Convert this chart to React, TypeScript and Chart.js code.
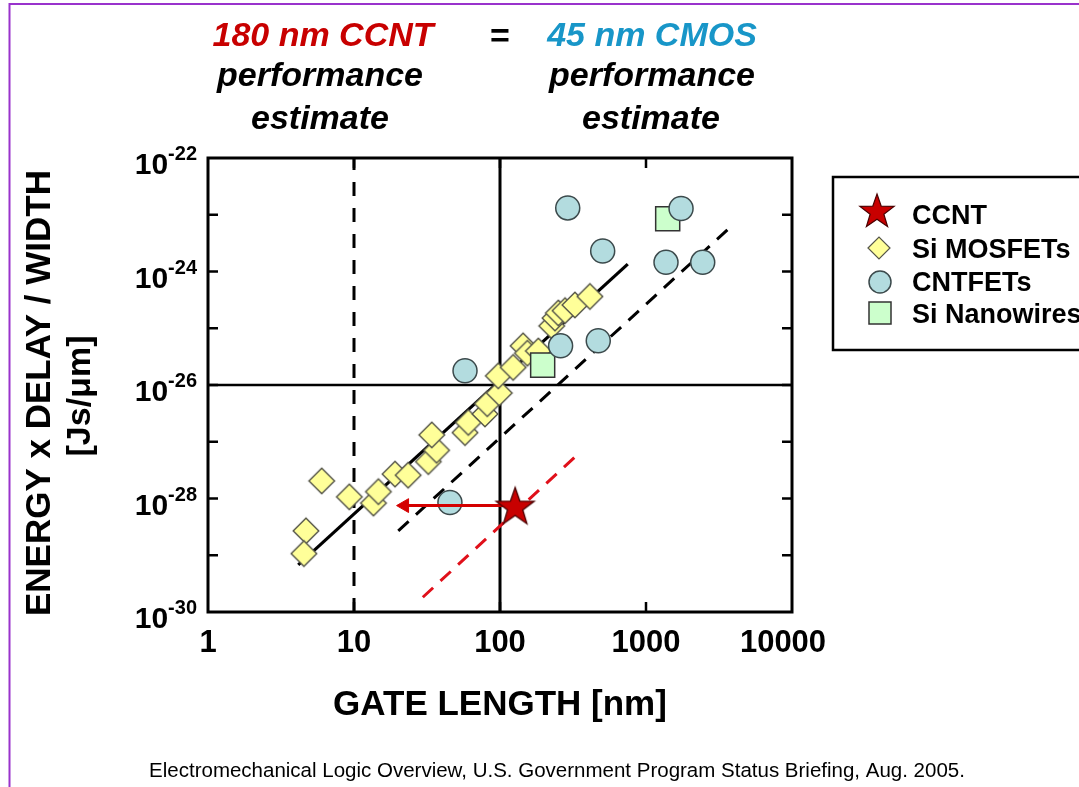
import React, { useEffect, useRef } from 'react';
import { Chart, registerables } from 'chart.js';

Chart.register(...registerables);

// ---------------- data (gate length in nm, energy x delay / width in Js/um) ----------------
const mosfetGateNm = [6.01, 4.69, 4.54, 9.29, 13.6, 14.7, 19.1, 23.5, 32.3, 36.8, 34.1, 57.6, 60.7, 78.9, 81.8, 98.9, 97.3, 123, 144, 154, 183, 226, 238, 251, 279, 326, 413];
const mosfetEDW = [2.04e-28, 2.69e-29, 1.07e-29, 1.07e-28, 8.3e-29, 1.32e-28, 2.69e-28, 2.57e-28, 4.47e-28, 7.08e-28, 1.32e-27, 1.45e-27, 2.19e-27, 3.09e-27, 4.68e-27, 7.24e-27, 1.45e-26, 2.04e-26, 4.9e-26, 3.63e-26, 3.98e-26, 1.1e-25, 1.51e-25, 1.86e-25, 2.04e-25, 2.57e-25, 3.63e-25];

const cntfetGateNm = [291, 505, 1738, 1371, 2446, 57.6, 260, 471, 45.4];
const cntfetEDW = [1.32e-23, 2.29e-24, 1.29e-23, 1.45e-24, 1.45e-24, 1.78e-26, 4.9e-26, 6.03e-26, 8.5e-29];

const nanowireGateNm = [1408, 196];
const nanowireEDW = [8.5e-24, 2.24e-26];

const ccntGateNm = [127];
const ccntEDW = [7.24e-29];

const arrowGateNm = [127, 22.2];
const arrowEDW = [7.5e-29, 7.5e-29];

const cmosFitGateNm = [4.15, 750];
const cmosFitEDW = [6.76e-30, 1.35e-24];

const shiftedFitGateNm = [20.1, 3700];
const shiftedFitEDW = [2.69e-29, 5.75e-24];

const ccntFitGateNm = [29.6, 332];
const ccntFitEDW = [1.82e-30, 5.62e-28];

const refLine10Nm = [10, 10];
const refLine100Nm = [100, 100];
const refLineFullEDW = [1e-30, 1e-22];
const refHorizNm = [1, 10000];
const refHorizEDW = [1e-26, 1e-26];

const xMin = 1;
const xMax = 10000;
const yMin = 1e-30;
const yMax = 1e-22;
const xTickValues = [1, 10, 100, 1000, 10000];
const xTickLabels = ['1', '10', '100', '1000', '10000'];
const yLabelValues = [1e-22, 1e-24, 1e-26, 1e-28, 1e-30];
const yLabelExponents = ['-22', '-24', '-26', '-28', '-30'];
const yMinorTickValues = [1e-29, 1e-28, 1e-27, 1e-26, 1e-25, 1e-24, 1e-23];
const xMinorTickValues = [10, 100, 1000];

const legendLabels = ['CCNT', 'Si MOSFETs', 'CNTFETs', 'Si Nanowires'];

const FONT = '"Liberation Sans", Arial, Helvetica, sans-serif';
const RED = '#c80000';
const BLUE = '#1896c8';
const DIAMOND_FILL = '#ffff99';
const DIAMOND_EDGE = '#55554a';
const CIRCLE_FILL = '#b3dcdf';
const SQUARE_FILL = '#ccffcc';

const zip = (xs: number[], ys: number[]) => xs.map((x, i) => ({ x, y: ys[i] }));

function starPath(ctx: CanvasRenderingContext2D, cx: number, cy: number, R: number, r: number) {
  ctx.beginPath();
  for (let i = 0; i < 10; i++) {
    const rad = (Math.PI / 5) * i - Math.PI / 2;
    const rr = i % 2 === 0 ? R : r;
    const px = cx + Math.cos(rad) * rr;
    const py = cy + Math.sin(rad) * rr;
    if (i === 0) ctx.moveTo(px, py);
    else ctx.lineTo(px, py);
  }
  ctx.closePath();
}

function diamondPath(ctx: CanvasRenderingContext2D, cx: number, cy: number, h: number) {
  ctx.beginPath();
  ctx.moveTo(cx - h, cy);
  ctx.lineTo(cx, cy - h);
  ctx.lineTo(cx + h, cy);
  ctx.lineTo(cx, cy + h);
  ctx.closePath();
}

function makeStar(): HTMLCanvasElement {
  const c = document.createElement('canvas');
  c.width = 44;
  c.height = 44;
  const g = c.getContext('2d')!;
  starPath(g, 22, 23, 20, 8);
  g.fillStyle = RED;
  g.fill();
  g.lineWidth = 1.3;
  g.strokeStyle = '#4a0000';
  g.stroke();
  return c;
}

function makeDiamond(): HTMLCanvasElement {
  const c = document.createElement('canvas');
  c.width = 30;
  c.height = 30;
  const g = c.getContext('2d')!;
  diamondPath(g, 15, 15, 12.8);
  g.fillStyle = DIAMOND_FILL;
  g.fill();
  g.lineWidth = 1.4;
  g.strokeStyle = DIAMOND_EDGE;
  g.stroke();
  return c;
}

const decorPlugin = {
  id: 'decor',
  afterDraw(chart: any) {
    const ctx: CanvasRenderingContext2D = chart.ctx;
    const xs = chart.scales.x;
    const ys = chart.scales.y;
    const { left, right, top, bottom } = chart.chartArea;
    ctx.save();

    // purple slide border
    ctx.strokeStyle = '#9933cc';
    ctx.lineWidth = 2;
    ctx.beginPath();
    ctx.moveTo(9.5, 787);
    ctx.lineTo(9.5, 4);
    ctx.lineTo(1079, 4);
    ctx.stroke();

    // frame
    ctx.strokeStyle = '#000';
    ctx.lineWidth = 3;
    ctx.strokeRect(left, top, right - left, bottom - top);

    // inward ticks
    ctx.lineWidth = 2.5;
    ctx.beginPath();
    yMinorTickValues.forEach((v) => {
      const y = ys.getPixelForValue(v);
      ctx.moveTo(left, y);
      ctx.lineTo(left + 10, y);
      ctx.moveTo(right, y);
      ctx.lineTo(right - 10, y);
    });
    xMinorTickValues.forEach((v) => {
      const x = xs.getPixelForValue(v);
      ctx.moveTo(x, bottom);
      ctx.lineTo(x, bottom - 10);
      ctx.moveTo(x, top);
      ctx.lineTo(x, top + 10);
    });
    ctx.stroke();

    ctx.fillStyle = '#000';
    // x tick labels
    ctx.font = `bold 31px ${FONT}`;
    ctx.textAlign = 'center';
    ctx.textBaseline = 'alphabetic';
    xTickValues.forEach((v, i) => {
      const x = xs.getPixelForValue(v);
      const dx = i === xTickValues.length - 1 ? -9 : 0;
      ctx.fillText(xTickLabels[i], x + dx, bottom + 40);
    });

    // y tick labels: 10 with superscript exponent
    yLabelValues.forEach((v, i) => {
      const y = ys.getPixelForValue(v);
      const rightEdge = left - 11;
      ctx.textAlign = 'right';
      ctx.font = `bold 20px ${FONT}`;
      const ew = ctx.measureText(yLabelExponents[i]).width;
      ctx.fillText(yLabelExponents[i], rightEdge, y + 2);
      ctx.font = `bold 30px ${FONT}`;
      ctx.fillText('10', rightEdge - ew, y + 16);
    });

    // x axis title
    ctx.textAlign = 'center';
    ctx.font = `bold 35px ${FONT}`;
    ctx.fillText('GATE LENGTH [nm]', (left + right) / 2, 715);

    // y axis title (rotated)
    ctx.save();
    ctx.translate(50, 393);
    ctx.rotate(-Math.PI / 2);
    ctx.font = `bold 35px ${FONT}`;
    ctx.fillText('ENERGY x DELAY / WIDTH', 0, 0);
    ctx.restore();
    ctx.save();
    ctx.translate(90, 396);
    ctx.rotate(-Math.PI / 2);
    ctx.font = `bold 34px ${FONT}`;
    ctx.fillText('[Js/\u03bcm]', 0, 0);
    ctx.restore();

    // header
    ctx.font = `italic bold 34px ${FONT}`;
    ctx.textAlign = 'center';
    ctx.fillStyle = RED;
    ctx.fillText('180 nm CCNT', 323, 46);
    ctx.fillStyle = BLUE;
    ctx.fillText('45 nm CMOS', 652, 46);
    ctx.fillStyle = '#000';
    ctx.font = `bold 34px ${FONT}`;
    ctx.fillText('=', 500, 47);
    ctx.font = `italic bold 34px ${FONT}`;
    ctx.fillText('performance', 320, 86);
    ctx.fillText('performance', 652, 86);
    ctx.fillText('estimate', 320, 129);
    ctx.fillText('estimate', 651, 129);

    // legend box (runs off the right edge)
    ctx.lineWidth = 2.5;
    ctx.strokeStyle = '#000';
    ctx.strokeRect(833, 177, 400, 173);
    const rowsY = [224, 258, 291, 323];
    const mx = 879;
    // star
    starPath(ctx, mx - 2, rowsY[0] - 12, 18, 7.2);
    ctx.fillStyle = RED;
    ctx.fill();
    ctx.lineWidth = 1.2;
    ctx.strokeStyle = '#4a0000';
    ctx.stroke();
    // diamond
    diamondPath(ctx, mx, rowsY[1] - 10, 11);
    ctx.fillStyle = DIAMOND_FILL;
    ctx.fill();
    ctx.lineWidth = 1.2;
    ctx.strokeStyle = DIAMOND_EDGE;
    ctx.stroke();
    // circle
    ctx.beginPath();
    ctx.arc(mx + 1, rowsY[2] - 9, 11, 0, Math.PI * 2);
    ctx.fillStyle = CIRCLE_FILL;
    ctx.fill();
    ctx.lineWidth = 1.5;
    ctx.strokeStyle = '#3c4a4c';
    ctx.stroke();
    // square
    ctx.fillStyle = SQUARE_FILL;
    ctx.fillRect(mx - 10, rowsY[3] - 21, 22, 22);
    ctx.strokeStyle = '#333';
    ctx.strokeRect(mx - 10, rowsY[3] - 21, 22, 22);

    ctx.fillStyle = '#000';
    ctx.font = `bold 27px ${FONT}`;
    ctx.textAlign = 'left';
    legendLabels.forEach((t, i) => ctx.fillText(t, 912, rowsY[i]));

    // caption
    ctx.font = `20.5px ${FONT}`;
    ctx.textAlign = 'center';
    ctx.fillText('Electromechanical Logic Overview, U.S. Government Program Status Briefing, Aug. 2005.', 557, 777);

    ctx.restore();
  },
};

export default function App() {
  const ref = useRef<HTMLCanvasElement>(null);

  useEffect(() => {
    if (!ref.current) return;
    const star = makeStar();
    const diamond = makeDiamond();
    const lineDs = (label: string, xsArr: number[], ysArr: number[], color: string, width: number, dash: number[], order: number) => ({
      label,
      data: zip(xsArr, ysArr),
      showLine: true,
      borderColor: color,
      borderWidth: width,
      borderDash: dash,
      pointRadius: 0,
      fill: false,
      order,
    });

    const chart = new Chart(ref.current, {
      type: 'scatter',
      data: {
        datasets: [
          {
            label: 'CCNT',
            data: zip(ccntGateNm, ccntEDW),
            pointStyle: star,
            pointRadius: 20,
            order: 0,
          },
          {
            label: 'CCNT projection',
            data: zip(arrowGateNm, arrowEDW),
            showLine: true,
            borderColor: '#d40000',
            borderWidth: 3,
            pointStyle: 'triangle',
            pointRotation: -90,
            pointRadius: [0, 8],
            pointBackgroundColor: '#d40000',
            pointBorderColor: '#d40000',
            pointBorderWidth: 1,
            order: 1,
          },
          {
            label: 'CNTFETs',
            data: zip(cntfetGateNm, cntfetEDW),
            pointStyle: 'circle',
            pointRadius: 12,
            backgroundColor: CIRCLE_FILL,
            borderColor: '#3c4a4c',
            borderWidth: 1.5,
            order: 2,
          },
          {
            label: 'Si Nanowires',
            data: zip(nanowireGateNm, nanowireEDW),
            pointStyle: 'rect',
            pointRadius: 17,
            backgroundColor: SQUARE_FILL,
            borderColor: '#333',
            borderWidth: 1.5,
            order: 3,
          },
          {
            label: 'Si MOSFETs',
            data: zip(mosfetGateNm, mosfetEDW),
            pointStyle: diamond,
            pointRadius: 13,
            order: 4,
          },
          lineDs('CCNT scaling', ccntFitGateNm, ccntFitEDW, '#e0101a', 3, [14, 10], 5),
          lineDs('CMOS shifted', shiftedFitGateNm, shiftedFitEDW, '#000', 3, [14, 10], 6),
          lineDs('CMOS fit', cmosFitGateNm, cmosFitEDW, '#000', 3.2, [], 7),
          lineDs('10 nm', refLine10Nm, refLineFullEDW, '#000', 3, [14, 12], 8),
          lineDs('100 nm', refLine100Nm, refLineFullEDW, '#000', 3, [], 9),
          lineDs('1e-26', refHorizNm, refHorizEDW, '#000', 2.5, [], 10),
        ],
      },
      options: {
        responsive: false,
        animation: false,
        devicePixelRatio: 1,
        events: [],
        layout: { padding: { left: 208, right: 287, top: 158, bottom: 175 } },
        plugins: { legend: { display: false }, tooltip: { enabled: false } },
        scales: {
          x: { type: 'logarithmic', min: xMin, max: xMax, display: false },
          y: { type: 'logarithmic', min: yMin, max: yMax, display: false },
        },
      },
      plugins: [decorPlugin],
    } as any);
    return () => chart.destroy();
  }, []);

  return (
    <div style={{ position: 'fixed', left: 0, top: 0, width: 1079, height: 787, background: '#fff' }}>
      <canvas ref={ref} width={1079} height={787} style={{ display: 'block', width: 1079, height: 787 }} />
    </div>
  );
}
